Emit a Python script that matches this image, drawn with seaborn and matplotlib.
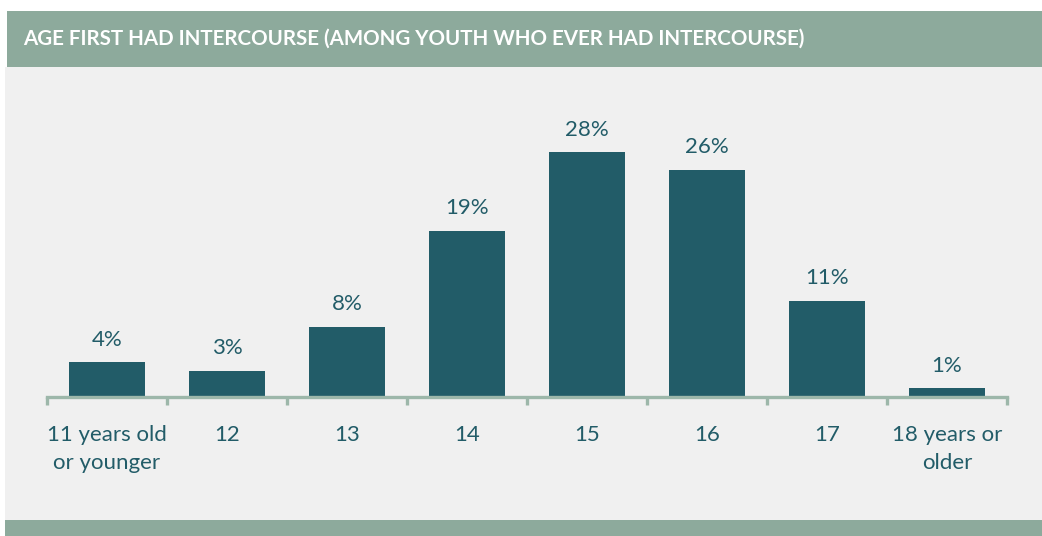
import matplotlib
matplotlib.use("Agg")
import matplotlib.pyplot as plt
import seaborn as sns
import pandas as pd
from matplotlib.patches import Rectangle

categories = ["11 years old\nor younger", "12", "13", "14", "15", "16", "17", "18 years or\nolder"]
values = [4, 3, 8, 19, 28, 26, 11, 1]
value_labels = ["4%", "3%", "8%", "19%", "28%", "26%", "11%", "1%"]
title = "AGE FIRST HAD INTERCOURSE (AMONG YOUTH WHO EVER HAD INTERCOURSE)"

BAR = "#225C68"
SAGE = "#8DAA9C"
AXIS = "#9DB7AA"
PANEL = "#F0F0F0"
FONT = ["Lato", "DejaVu Sans"]

sns.set_theme(style="white")
plt.rcParams["font.family"] = FONT

W, H = 1042, 536
fig = plt.figure(figsize=(W / 100, H / 100), dpi=100)
fig.patch.set_facecolor("white")

# background panels in a full-figure background axes
bg = fig.add_axes([0, 0, 1, 1], zorder=0)
bg.set_xlim(0, W)
bg.set_ylim(H, 0)
bg.axis("off")
bg.add_patch(Rectangle((5, 67), W - 5, 520 - 67, facecolor=PANEL, edgecolor="none"))
bg.add_patch(Rectangle((7, 11), W - 7, 56, facecolor=SAGE, edgecolor="none"))
bg.add_patch(Rectangle((5, 520), W - 5, 16, facecolor=SAGE, edgecolor="none"))
bg.text(23, 39, title, color="white", fontsize=14.8, fontweight="bold",
        ha="left", va="center", family=FONT)

ax = fig.add_axes([47 / W, (536 - 397) / H, 960 / W, 297 / H], zorder=2)
ax.set_facecolor("none")
ax.patch.set_alpha(0)
df = pd.DataFrame({"cat": categories, "val": values})
sns.barplot(data=df, x="cat", y="val", color=BAR, width=0.633, saturation=1, ax=ax)
for p in ax.patches:
    p.set_edgecolor("none")

ax.set_xlim(-0.5, len(categories) - 0.5)
ax.set_ylim(0, 297 / 8.75)
ax.set_xlabel("")
ax.set_ylabel("")
ax.set_yticks([])
for s in ["top", "left", "right"]:
    ax.spines[s].set_visible(False)
ax.spines["bottom"].set_color(AXIS)
ax.spines["bottom"].set_linewidth(2.4)

ax.set_xticks(range(len(categories)))
ax.set_xticklabels(categories, color=BAR, fontsize=16, linespacing=1.5)
ax.tick_params(axis="x", which="major", bottom=True, length=0, pad=20)
ax.set_xticks([i - 0.5 for i in range(len(categories) + 1)], minor=True)
ax.tick_params(axis="x", which="minor", bottom=True, length=6, width=2.4,
               color=AXIS, direction="out")

for i, (v, lab) in enumerate(zip(values, value_labels)):
    ax.annotate(lab, (i, v), xytext=(0, 9), textcoords="offset points",
                ha="center", va="bottom", color=BAR, fontsize=16)

fig.savefig("out.png", dpi=100, facecolor="white")
